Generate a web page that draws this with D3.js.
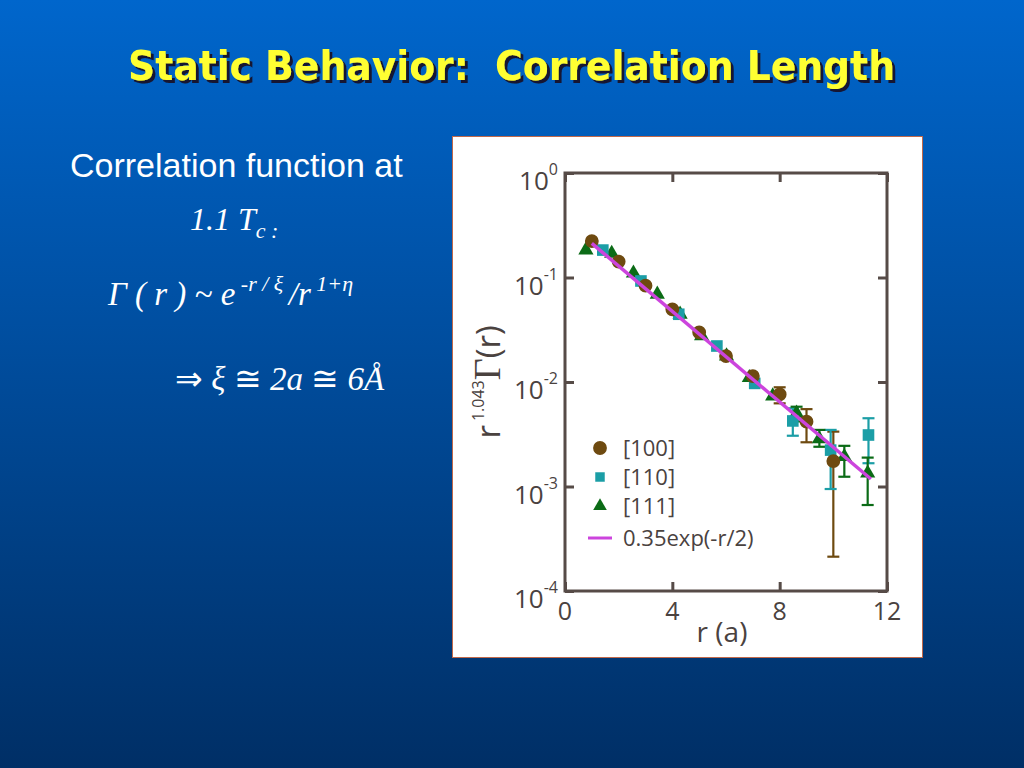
<!DOCTYPE html>
<html>
<head>
<meta charset="utf-8">
<script src="https://cdn.jsdelivr.net/npm/d3@7"></script>
<style>
  html, body { margin: 0; padding: 0; }
  body { width: 1024px; height: 768px; overflow: hidden; }
</style>
</head>
<body>
<svg id="slide" width="1024" height="768"></svg>
<script>
"use strict";
// values
var r100 = [1, 2, 3, 4, 5, 6, 7, 8, 9, 10];
var g100 = [0.223, 0.142, 0.0835, 0.0496, 0.0299, 0.0177, 0.0114, 0.0076, 0.00417, 0.00175];
var lo100 = [null, null, null, null, null, null, null, 0.00625, 0.00265, 0.000213];
var hi100 = [null, null, null, null, null, null, null, 0.0089, 0.0055, 0.00335];

var r110 = [1.41, 2.83, 4.24, 5.66, 7.07, 8.49, 9.9, 11.31];
var g110 = [0.183, 0.0926, 0.0445, 0.0221, 0.0097, 0.00424, 0.00223, 0.00311];
var lo110 = [null, null, null, null, null, 0.00306, 0.000946, 0.00167];
var hi110 = [null, null, null, null, null, 0.0056, 0.00348, 0.0045];

var r111 = [0.78, 1.74, 2.55, 3.44, 4.29, 5.09, 6.02, 6.87, 7.74, 8.63, 9.48, 10.41, 11.28];
var g111 = [0.183, 0.17, 0.11, 0.069, 0.0445, 0.0277, 0.0177, 0.011, 0.00734, 0.00501, 0.00285, 0.00193, 0.00134];
var lo111 = [null, null, null, null, null, null, null, null, null, 0.0042, 0.0024, 0.00124, 0.000665];
var hi111 = [null, null, null, null, null, null, null, null, null, 0.0058, 0.00348, 0.00245, 0.00189];

var fitR = [1.0, 11.4];
var fitG = [0.212, 0.00118];

var xTicks = [0, 4, 8, 12];
var yTicks = [1, 0.1, 0.01, 0.001, 0.0001];
var yExp = ["0", "-1", "-2", "-3", "-4"];
var legendLabels = ["[100]", "[110]", "[111]", "0.35exp(-r/2)"];

var col100 = "#6e4a10", col110 = "#1b9ea6", col111 = "#0b6b16", colFit = "#cc44dd";
var ink = "#4a423f", frameCol = "#564b47";

var svg = d3.select("#slide");

// background gradient + title shadow
var defs = svg.append("defs");
var grad = defs.append("linearGradient").attr("id", "bg")
	.attr("x1", 0).attr("y1", 0).attr("x2", 0).attr("y2", 1);
grad.append("stop").attr("offset", "0%").attr("stop-color", "#0066cc");
grad.append("stop").attr("offset", "100%").attr("stop-color", "#002f66");
defs.append("filter").attr("id", "shadow").attr("x", "-5%").attr("y", "-20%")
	.attr("width", "110%").attr("height", "150%")
	.append("feDropShadow").attr("dx", 3).attr("dy", 3).attr("stdDeviation", 0.6)
	.attr("flood-color", "#151530").attr("flood-opacity", 1);
svg.append("rect").attr("width", 1024).attr("height", 768).attr("fill", "url(#bg)");

svg.append("text")
	.attr("x", 128).attr("y", 80)
	.attr("textLength", 767).attr("lengthAdjust", "spacingAndGlyphs")
	.style("font-family", "'DejaVu Sans Condensed', 'DejaVu Sans', sans-serif")
	.style("font-weight", "bold").style("font-size", "40px")
	.style("white-space", "pre")
	.attr("fill", "#ffff33").attr("filter", "url(#shadow)")
	.text("Static Behavior:  Correlation Length");

// left-hand text
svg.append("text").attr("x", 70).attr("y", 177)
	.style("font-family", "'Liberation Sans', Arial, sans-serif").style("font-size", "34px")
	.attr("fill", "#ffffff").text("Correlation function at");

var serif = "'Liberation Serif', 'Times New Roman', serif";
var t1 = svg.append("text").attr("x", 190).attr("y", 230)
	.style("font-family", serif).style("font-style", "italic").style("font-size", "32px")
	.style("white-space", "pre").attr("fill", "#ffffff");
t1.append("tspan").text("1.1 T");
t1.append("tspan").attr("dy", 8).style("font-size", "22px").text("c :");

var t2 = svg.append("text").attr("x", 108).attr("y", 305)
	.style("font-family", serif).style("font-style", "italic").style("font-size", "33px")
	.style("white-space", "pre").attr("fill", "#ffffff");
t2.append("tspan").text("Γ ( r ) ~ e");
t2.append("tspan").attr("dy", -14).style("font-size", "22px").text(" -r / ξ ");
t2.append("tspan").attr("dy", 14).text("/r");
t2.append("tspan").attr("dy", -14).style("font-size", "22px").text(" 1+η");

var t3 = svg.append("text").attr("x", 175).attr("y", 390)
	.style("font-family", serif).style("font-style", "italic").style("font-size", "33px")
	.style("white-space", "pre").attr("fill", "#ffffff");
t3.append("tspan").style("font-style", "normal").text("⇒");
t3.append("tspan").text(" ξ ");
t3.append("tspan").style("font-style", "normal").text("≅");
t3.append("tspan").text(" 2a ");
t3.append("tspan").style("font-style", "normal").text("≅");
t3.append("tspan").text(" 6Å");

// white panel for the figure
svg.append("rect").attr("x", 452.5).attr("y", 136.5).attr("width", 470).attr("height", 521)
	.attr("fill", "#ffffff").attr("stroke", "#c0684a").attr("stroke-width", 1);

var x = d3.scaleLinear().domain([0, 12]).range([565, 887]);
var y = d3.scaleLog().domain([1e-4, 1]).range([591, 173]);
var sans = "'Open Sans', 'Noto Sans', sans-serif";

// inward ticks on all four sides
function styleAxis(g){
	g.select(".domain").remove();
	g.selectAll(".tick line").attr("stroke", frameCol).attr("stroke-width", 3);
	g.selectAll(".tick text").remove();
}
svg.append("g").attr("transform", "translate(0,591)")
	.call(d3.axisBottom(x).tickValues(xTicks).tickSize(-9).tickFormat("")).call(styleAxis);
svg.append("g").attr("transform", "translate(0,173)")
	.call(d3.axisTop(x).tickValues(xTicks).tickSize(-9).tickFormat("")).call(styleAxis);
svg.append("g").attr("transform", "translate(565,0)")
	.call(d3.axisLeft(y).tickValues(yTicks).tickSize(-9).tickFormat("")).call(styleAxis);
svg.append("g").attr("transform", "translate(887,0)")
	.call(d3.axisRight(y).tickValues(yTicks).tickSize(-9).tickFormat("")).call(styleAxis);

svg.append("rect").attr("x", x(0)).attr("y", y(1))
	.attr("width", x(12) - x(0)).attr("height", y(1e-4) - y(1))
	.attr("fill", "none").attr("stroke", frameCol).attr("stroke-width", 3);

// tick labels
xTicks.forEach(function(v){
	svg.append("text").attr("x", x(v)).attr("y", 620).attr("text-anchor", "middle")
		.style("font-family", sans).style("font-size", "25px").attr("fill", ink).text(v);
});
yTicks.forEach(function(v, i){
	var t = svg.append("text").attr("x", 558).attr("y", y(v) + 17).attr("text-anchor", "end")
		.style("font-family", sans).style("font-size", "26px").attr("fill", ink);
	t.append("tspan").text("10");
	t.append("tspan").attr("dy", -15).style("font-size", "16px").text(yExp[i]);
});

// axis titles
svg.append("text").attr("x", 722).attr("y", 642).attr("text-anchor", "middle")
	.style("font-family", sans).style("font-size", "28px").attr("fill", ink).text("r (a)");
var yl = svg.append("text").attr("transform", "translate(500,382) rotate(-90)")
	.attr("text-anchor", "middle").style("font-family", sans).style("font-size", "33px")
	.attr("fill", ink);
yl.append("tspan").text("r");
yl.append("tspan").attr("dy", -16).attr("dx", 4).style("font-size", "16px").text("1.043");
yl.append("tspan").attr("dy", 16).style("font-family", serif).style("font-size", "38px").text("Γ");
yl.append("tspan").text("(r)");

// error bars
function errorBars(rs, los, his, col){
	rs.forEach(function(r, i){
		if (los[i] === null) return;
		var g = svg.append("g").attr("stroke", col).attr("stroke-width", 2.2);
		g.append("line").attr("x1", x(r)).attr("x2", x(r)).attr("y1", y(los[i])).attr("y2", y(his[i]));
		[los[i], his[i]].forEach(function(v){
			g.append("line").attr("x1", x(r) - 6).attr("x2", x(r) + 6).attr("y1", y(v)).attr("y2", y(v));
		});
	});
}
errorBars(r100, lo100, hi100, col100);
errorBars(r110, lo110, hi110, col110);
errorBars(r111, lo111, hi111, col111);

var sym100 = d3.symbol().type(d3.symbolCircle).size(150);
var sym110 = d3.symbol().type(d3.symbolSquare).size(135);
var sym111 = d3.symbol().type(d3.symbolTriangle).size(100);

function points(rs, gs, sym, col){
	svg.append("g").selectAll("path").data(rs).enter().append("path")
		.attr("d", sym)
		.attr("transform", function(d, i){ return "translate(" + x(d) + "," + y(gs[i]) + ")"; })
		.attr("fill", col);
}
points(r111, g111, sym111, col111);
points(r110, g110, sym110, col110);
points(r100, g100, sym100, col100);

// fit line
svg.append("path").datum(fitR)
	.attr("d", d3.line().x(function(d){ return x(d); }).y(function(d, i){ return y(fitG[i]); }))
	.attr("fill", "none").attr("stroke", colFit).attr("stroke-width", 3.5);

// legend
var legY = [448, 477, 506, 538];
var legSyms = [[sym100, col100], [d3.symbol().type(d3.symbolSquare).size(90), col110], [d3.symbol().type(d3.symbolTriangle).size(80), col111]];
legSyms.forEach(function(s, i){
	svg.append("path").attr("d", s[0]).attr("fill", s[1])
		.attr("transform", "translate(600," + legY[i] + ")");
});
svg.append("line").attr("x1", 588).attr("x2", 612).attr("y1", legY[3]).attr("y2", legY[3])
	.attr("stroke", colFit).attr("stroke-width", 3);
legendLabels.forEach(function(l, i){
	svg.append("text").attr("x", 623).attr("y", legY[i] + 8)
		.style("font-family", sans).style("font-size", "22px").attr("fill", ink).text(l);
});
</script>
</body>
</html>
